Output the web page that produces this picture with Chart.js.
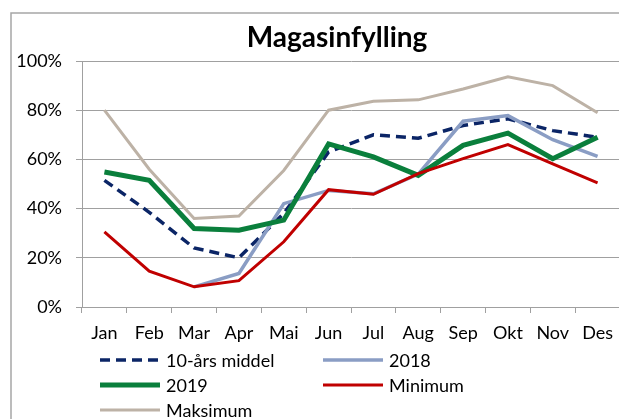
<!DOCTYPE html>
<html>
<head>
<meta charset="utf-8">
<script src="https://cdn.jsdelivr.net/npm/chart.js@4"></script>
<style>
  html, body { margin:0; padding:0; background:#fff; overflow:hidden; }
  #wrap { position:absolute; left:0; top:0; width:674px; height:419px; }
</style>
</head>
<body>
<div id="wrap"><canvas id="chart" width="674" height="419"></canvas></div>
<script>
// ---- data ----
const months = ["Jan","Feb","Mar","Apr","Mai","Jun","Jul","Aug","Sep","Okt","Nov","Des"];
const yTicks = [0, 0.2, 0.4, 0.6, 0.8, 1.0];

const middel10 = [0.515, 0.385, 0.24, 0.20, 0.38, 0.63, 0.70, 0.686, 0.738, 0.765, 0.717, 0.69];
const year2018 = [null, null, 0.082, 0.136, 0.42, 0.474, 0.46, 0.54, 0.755, 0.778, 0.68, 0.612];
const year2019 = [0.549, 0.515, 0.319, 0.312, 0.353, 0.663, 0.61, 0.535, 0.657, 0.707, 0.603, 0.69];
const minimum  = [0.305, 0.146, 0.082, 0.107, 0.265, 0.477, 0.458, 0.542, 0.603, 0.66, 0.582, 0.505];
const maksimum = [0.80, 0.56, 0.36, 0.37, 0.555, 0.80, 0.836, 0.842, 0.886, 0.936, 0.90, 0.79];

const FONT = "Lato, 'Open Sans', sans-serif";
const GRID = "#a0a0a0";

// frame + title + legend (two columns, like the original)
const decor = {
  id: "decor",
  beforeDraw(chart) {
    const c = chart.ctx;
    c.save();
    c.strokeStyle = "#a6a6a6";
    c.lineWidth = 1.5;
    c.beginPath();
    c.moveTo(11, 419); c.lineTo(11, 13); c.lineTo(674, 13);
    c.stroke();
    c.restore();
  },
  afterDraw(chart) {
    const c = chart.ctx;
    c.save();
    c.fillStyle = "#000";
    c.font = "bold 28px " + FONT;
    c.textAlign = "center";
    c.textBaseline = "middle";
    c.fillText("Magasinfylling", 337, 38);

    const slots = [[100, 360], [323, 360], [100, 385], [323, 385], [100, 410]];
    c.font = "18px " + FONT;
    c.textAlign = "left";
    chart.data.datasets.forEach((ds, i) => {
      const [x, y] = slots[i];
      c.strokeStyle = ds.borderColor;
      c.lineWidth = ds.borderWidth;
      c.setLineDash(ds.borderDash || []);
      c.beginPath();
      c.moveTo(x, y); c.lineTo(x + 60, y);
      c.stroke();
      c.setLineDash([]);
      c.fillStyle = "#000";
      c.fillText(ds.label, x + 66, y + 1);
    });
    c.restore();
  }
};

new Chart(document.getElementById("chart"), {
  type: "line",
  data: {
    labels: months,
    datasets: [
      { label: "10-års middel", data: middel10, borderColor: "#0b2566", borderWidth: 3.5, borderDash: [10, 6], order: 5 },
      { label: "2018", data: year2018, borderColor: "#8a9dc4", borderWidth: 3.5, order: 4 },
      { label: "2019", data: year2019, borderColor: "#0a7f3c", borderWidth: 5, order: 3 },
      { label: "Minimum", data: minimum, borderColor: "#c00000", borderWidth: 3, order: 2 },
      { label: "Maksimum", data: maksimum, borderColor: "#bdb2a6", borderWidth: 3, order: 1 }
    ]
  },
  options: {
    responsive: false,
    animation: false,
    layout: { padding: { left: 0, right: 54, top: 61, bottom: 72 } },
    elements: { point: { radius: 0 }, line: { tension: 0, fill: false } },
    plugins: { legend: { display: false }, title: { display: false }, tooltip: { enabled: false } },
    scales: {
      x: {
        offset: true,
        grid: { offset: true, drawOnChartArea: false, drawTicks: true, tickLength: 6, color: GRID },
        border: { color: GRID, width: 1 },
        ticks: { color: "#000", font: { family: FONT, size: 18 }, padding: 9, maxRotation: 0, autoSkip: false },
        afterFit: s => { s.height = 40; }
      },
      y: {
        min: 0, max: 1,
        afterBuildTicks: s => { s.ticks = yTicks.map(v => ({ value: v })); },
        grid: { color: GRID, tickLength: 6, lineWidth: 1 },
        border: { color: GRID, width: 1 },
        ticks: { color: "#000", font: { family: FONT, size: 18 }, padding: 14,
                 callback: v => Math.round(v * 100) + "%" },
        afterFit: s => { s.width = 82; }
      }
    }
  },
  plugins: [decor]
});
</script>
</body>
</html>
